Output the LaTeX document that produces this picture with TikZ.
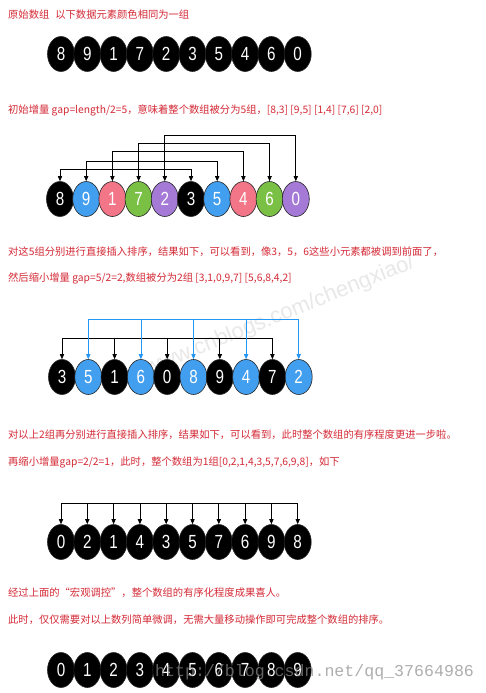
\documentclass[tikz,border=0pt]{standalone}
\usepackage{fontspec}
\setmainfont{Liberation Sans}
\newfontfamily\cjk{Noto Sans CJK SC}
\newfontfamily\wmono{Liberation Mono}
\usetikzlibrary{shapes.geometric,arrows.meta}
\definecolor{txtred}{RGB}{212,42,54}
\definecolor{cblue}{RGB}{66,158,238}
\definecolor{cpink}{RGB}{242,118,136}
\definecolor{cgreen}{RGB}{122,192,68}
\definecolor{cpurple}{RGB}{164,122,214}
\definecolor{lblue}{RGB}{36,150,245}
\newcommand\dg[1]{\scalebox{0.8}[1]{#1}}
\tikzset{
  el/.style={ellipse, draw=black!85, line width=0.6pt, minimum width=27pt,
    minimum height=35pt, inner sep=0pt, text=white,
    font=\fontsize{19}{19}\selectfont},
  txt/.style={anchor=west, text=txtred, inner sep=0pt,
    font=\cjk\fontsize{10.3}{12}\selectfont},
  tip/.style={-{Triangle[length=5pt,width=4.2pt]}, line width=0.7pt},
  tips/.style={{Triangle[length=5pt,width=4.2pt]}-{Triangle[length=5pt,width=4.2pt]}, line width=0.7pt},
}
\begin{document}
\begin{tikzpicture}[x=1pt,y=-1pt]
\useasboundingbox[fill=white] (0,0) rectangle (486,693);
% faint watermark
\node[rotate=22, text=black!9, font=\fontsize{22}{22}\selectfont] (wm1) at (280,316) {www.cnblogs.com/chengxiao/};

% texts
\node[txt] (t1) at (8,15) {原始数组\hspace{6pt}以下数据元素颜色相同为一组};
\node[txt] (t2) at (8,110) {初始增量 gap=length/2=5，意味着整个数组被分为5组，[8,3] [9,5] [1,4] [7,6] [2,0]};
\node[txt] (t3) at (8,252) {对这5组分别进行直接插入排序，结果如下，可以看到，像3，5，6这些小元素都被调到前面了，};
\node[txt] (t4) at (8,278) {然后缩小增量 gap=5/2=2,数组被分为2组 [3,1,0,9,7] [5,6,8,4,2]};
\node[txt] (t5) at (8,435) {对以上2组再分别进行直接插入排序，结果如下，可以看到，此时整个数组的有序程度更进一步啦。};
\node[txt] (t6) at (8,462) {再缩小增量gap=2/2=1，此时，整个数组为1组[0,2,1,4,3,5,7,6,9,8]，如下};
\node[txt] (t7) at (8,593) {经过上面的“宏观调控”，整个数组的有序化程度成果喜人。};
\node[txt] (t8) at (8,620) {此时，仅仅需要对以上数列简单微调，无需大量移动操作即可完成整个数组的排序。};

% row 1
\foreach \v [count=\i from 0] in {8,9,1,7,2,3,5,4,6,0}
  \node[el, fill=black] (a\i) at ({61+26.3*\i},54) {\dg{\v}};

% row 2
\foreach \v/\c [count=\i from 0] in {8/black,9/cblue,1/cpink,7/cgreen,2/cpurple,3/black,5/cblue,4/cpink,6/cgreen,0/cpurple}
  \node[el, fill=\c] (b\i) at ({60+26.2*\i},199) {\dg{\v}};
\foreach \i/\y in {0/169,1/161,2/151,3/143,4/135}{
  \pgfmathtruncatemacro\j{\i+5}
  \draw[tips] (b\i.north) |- (b\j.north |- 0,\y) -- (b\j.north);
}

% row 3
\foreach \v/\c [count=\i from 0] in {3/black,5/cblue,1/black,6/cblue,0/black,8/cblue,9/black,4/cblue,7/black,2/cblue}
  \node[el, fill=\c] (c\i) at ({62+26.3*\i},377) {\dg{\v}};
\draw[tips] (c0.north) |- (c8.north |- 0,338) -- (c8.north);
\foreach \i in {2,4,6}
  \draw[tip] (c\i.north |- 0,338) -- (c\i.north);
\draw[tips, lblue] (c1.north) |- (c9.north |- 0,319) -- (c9.north);
\foreach \i in {3,5,7}
  \draw[tip, lblue] (c\i.north |- 0,319) -- (c\i.north);

% row 4
\foreach \v [count=\i from 0] in {0,2,1,4,3,5,7,6,9,8}
  \node[el, fill=black] (d\i) at ({61+26.3*\i},542) {\dg{\v}};
\draw[tips] (d0.north) |- (d9.north |- 0,503) -- (d9.north);
\foreach \i in {1,...,8}
  \draw[tip] (d\i.north |- 0,503) -- (d\i.north);

% row 5
\foreach \v [count=\i from 0] in {0,1,2,3,4,5,6,7,8,9}
  \node[el, fill=black] (e\i) at ({61+26.3*\i},670) {\dg{\v}};

% csdn watermark
\node[anchor=west, inner sep=0pt, text=black!45, opacity=0.7, font=\wmono\fontsize{16.6}{17}\selectfont] (wm2) at (155,672) {http://blog.csdn.net/qq\_37664986};
\end{tikzpicture}
\end{document}
